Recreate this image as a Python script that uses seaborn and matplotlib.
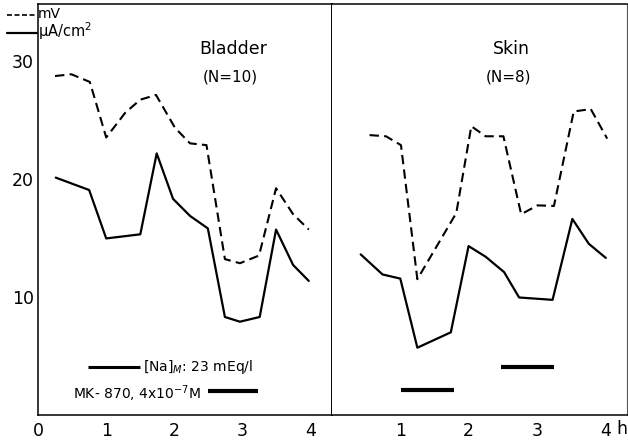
import pandas as pd
import matplotlib
matplotlib.use('Agg')
import matplotlib.pyplot as plt
from matplotlib.lines import Line2D
import seaborn as sns

# valores (tempo em h)
bladder_t_mv = [0.25, 0.49, 0.76, 1.0, 1.28, 1.5, 1.73, 2.01, 2.23, 2.47, 2.74, 2.96, 3.24, 3.49, 3.74, 3.97]
bladder_mv = [28.7, 28.85, 28.2, 23.5, 25.6, 26.7, 27.1, 24.3, 23.0, 22.85, 13.2, 12.85, 13.5, 19.2, 17.0, 15.7]
bladder_t_ua = [0.26, 0.75, 1.0, 1.5, 1.74, 1.98, 2.23, 2.49, 2.74, 2.96, 3.25, 3.49, 3.74, 3.97]
bladder_ua = [20.1, 19.05, 14.95, 15.3, 22.15, 18.3, 16.85, 15.8, 8.3, 7.9, 8.3, 15.7, 12.7, 11.35]

skin_t_mv = [0.55, 0.79, 1.01, 1.25, 1.82, 2.04, 2.25, 2.51, 2.77, 3.01, 3.25, 3.54, 3.79, 4.03]
skin_mv = [23.7, 23.6, 22.85, 11.5, 17.1, 24.45, 23.6, 23.6, 17.0, 17.75, 17.7, 25.7, 25.9, 23.4]
skin_t_ua = [0.42, 0.74, 1.0, 1.25, 1.74, 2.0, 2.25, 2.52, 2.74, 3.23, 3.52, 3.76, 4.01]
skin_ua = [13.6, 11.9, 11.55, 5.7, 7.0, 14.3, 13.4, 12.1, 9.95, 9.75, 16.6, 14.5, 13.3]

# períodos dos tratamentos (barras)
na_bladder = [0.73, 1.5]
mk_bladder = [2.49, 3.23]
na_skin = [2.47, 3.25]
mk_skin = [1.01, 1.79]

sns.set_style('white')
plt.rcParams['font.family'] = ['DejaVu Sans']
plt.rcParams['text.color'] = 'black'
plt.rcParams['xtick.color'] = 'black'
plt.rcParams['ytick.color'] = 'black'

W, H = 628, 441
fig = plt.figure(figsize=(W / 100, H / 100), dpi=100)
ax1 = fig.add_axes([38 / W, 26 / H, 294 / W, 411 / H])
ax2 = fig.add_axes([332 / W, 26 / H, 295 / W, 411 / H])

dash = (0, (4.5, 2.5))
for ax, t_mv, mv, t_ua, ua in [(ax1, bladder_t_mv, bladder_mv, bladder_t_ua, bladder_ua),
                               (ax2, skin_t_mv, skin_mv, skin_t_ua, skin_ua)]:
    sns.lineplot(x=t_mv, y=mv, ax=ax, color='black', lw=1.5, linestyle=dash,
                 estimator=None, sort=False)
    sns.lineplot(x=t_ua, y=ua, ax=ax, color='black', lw=1.6,
                 estimator=None, sort=False)
    ax.set_ylim(0, 34.8)
    for s in ax.spines.values():
        s.set_color('black')
        s.set_linewidth(1.1)

ax1.set_xlim(0, 4.31)
ax2.set_xlim(0, 4.32)

ax1.set_xticks([0, 1, 2, 3, 4])
ax1.set_yticks([10, 20, 30])
ax1.tick_params(axis='both', direction='in', labelsize=12.5, colors='black')
ax1.tick_params(axis='y', length=9, width=1, pad=3)
ax1.tick_params(axis='x', length=7, width=1, pad=5)
ax1.spines['right'].set_linewidth(1.4)

ax2.set_xticks([1, 2, 3, 4])
ax2.set_yticks([])
ax2.tick_params(axis='x', direction='in', length=7, width=1, pad=5, labelsize=12.5, colors='black')
ax2.spines['left'].set_visible(False)
ax2.spines['right'].set_linewidth(0.8)
ax2.spines['right'].set_color('#555555')
ax2.text(4.24, -0.012, 'h', transform=ax2.get_xaxis_transform(), ha='center', va='top', fontsize=12.5)

# títulos
ax1.text(2.86, 31.0, 'Bladder', ha='center', va='center', fontsize=12.5)
ax1.text(2.82, 28.6, '(N=10)', ha='center', va='center', fontsize=11)
ax2.text(2.62, 31.0, 'Skin', ha='center', va='center', fontsize=12.5)
ax2.text(2.59, 28.6, '(N=8)', ha='center', va='center', fontsize=11)

# barras dos tratamentos
ax1.plot(na_bladder, [4.1, 4.1], color='black', lw=2.2, solid_capstyle='butt')
ax1.text(na_bladder[1] + 0.04, 4.1, '[Na]$_M$: 23 mEq/l', ha='left', va='center', fontsize=10)
ax1.plot(mk_bladder, [2.0, 2.0], color='black', lw=3, solid_capstyle='butt')
ax1.text(mk_bladder[0] - 0.1, 1.8, 'MK- 870, 4x10$^{-7}$M', ha='right', va='center', fontsize=10)
ax2.plot(na_skin, [4.1, 4.1], color='black', lw=3, solid_capstyle='butt')
ax2.plot(mk_skin, [2.1, 2.1], color='black', lw=3, solid_capstyle='butt')

# legenda no canto
fig.add_artist(Line2D([7 / W, 37 / W], [1 - 15 / H] * 2, color='black', lw=1.2, linestyle=(0, (3, 1.5))))
fig.add_artist(Line2D([7 / W, 37 / W], [1 - 33 / H] * 2, color='black', lw=1.6))
fig.text(38 / W, 1 - 14 / H, 'mV', ha='left', va='center', fontsize=10)
fig.text(38 / W, 1 - 31 / H, 'μA/cm$^2$', ha='left', va='center', fontsize=10.5)

fig.savefig('out.png', dpi=100)
